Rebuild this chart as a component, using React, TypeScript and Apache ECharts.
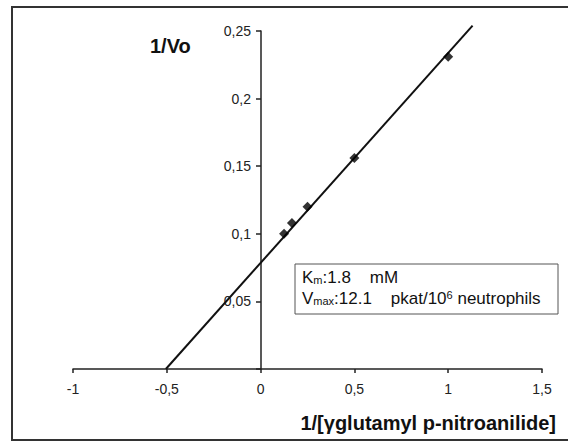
import React, { useEffect, useRef } from "react";
import * as echarts from "echarts";

const xData = [0.125, 0.167, 0.25, 0.5, 1.0];
const yData = [0.1, 0.108, 0.12, 0.156, 0.231];
const fitLine = [
  [-0.505, 0],
  [1.13, 0.254],
];
const xTicks = { min: -1, max: 1.5, interval: 0.5 };
const yTicks = { min: 0, max: 0.25, interval: 0.05 };

const FONT = "'Liberation Sans', Arial, sans-serif";
const fmt = (v: number) => String(Math.round(v * 1000) / 1000).replace(".", ",");

export default function App() {
  const ref = useRef<HTMLDivElement>(null);
  useEffect(() => {
    if (!ref.current) return;
    const chart = echarts.init(ref.current, undefined, { renderer: "svg" });
    chart.setOption({
      animation: false,
      backgroundColor: "#fff",
      grid: { left: 73, right: 26, top: 31, bottom: 77, containLabel: false },
      xAxis: {
        type: "value",
        min: xTicks.min,
        max: xTicks.max,
        interval: xTicks.interval,
        splitLine: { show: false },
        axisLine: { lineStyle: { color: "#222", width: 1.5 } },
        axisTick: { show: true, length: 4, lineStyle: { color: "#222", width: 1.5 } },
        axisLabel: {
          formatter: (v: number) => fmt(v),
          color: "#222",
          fontFamily: FONT,
          fontSize: 14,
          margin: 13,
        },
      },
      yAxis: {
        type: "value",
        min: yTicks.min,
        max: yTicks.max,
        interval: yTicks.interval,
        offset: -188,
        splitLine: { show: false },
        axisLine: { show: true, onZero: false, lineStyle: { color: "#222", width: 1.5 } },
        axisTick: { show: true, length: 5, lineStyle: { color: "#222", width: 1.5 } },
        axisLabel: {
          formatter: (v: number) => (v === 0 ? "" : fmt(v)),
          color: "#222",
          fontFamily: FONT,
          fontSize: 14,
          margin: 10,
        },
      },
      series: [
        {
          type: "line",
          data: fitLine,
          symbol: "none",
          clip: false,
          lineStyle: { color: "#111", width: 2 },
          z: 2,
        },
        {
          type: "scatter",
          data: xData.map((x, i) => [x, yData[i]]),
          symbol: "diamond",
          symbolSize: 10,
          itemStyle: { color: "#000" },
          z: 3,
        },
      ],
      graphic: [
        {
          type: "rect",
          shape: { x: 12, y: 7, width: 570, height: 433 },
          style: { fill: "none", stroke: "#333", lineWidth: 2 },
          silent: true,
        },
        {
          type: "text",
          x: 150,
          y: 46,
          style: {
            text: "1/Vo",
            fontFamily: FONT,
            fontSize: 20,
            fontWeight: "bold",
            fill: "#111",
            verticalAlign: "middle",
          },
        },
        {
          type: "text",
          x: 556,
          y: 423,
          style: {
            text: "1/[γglutamyl p-nitroanilide]",
            fontFamily: FONT,
            fontSize: 20,
            fontWeight: "bold",
            fill: "#111",
            align: "right",
            verticalAlign: "middle",
          },
        },
        {
          type: "rect",
          shape: { x: 295, y: 264, width: 263, height: 50 },
          style: { fill: "#fff", stroke: "#555", lineWidth: 1 },
          z: 10,
        },
        {
          type: "text",
          x: 302,
          y: 277,
          z: 11,
          style: {
            text: "{n|K}{s|m}{n|:1.8    mM}",
            verticalAlign: "middle",
            rich: {
              n: { fontFamily: FONT, fontSize: 17, fill: "#111" },
              s: { fontFamily: FONT, fontSize: 11, fill: "#111", verticalAlign: "bottom", padding: [6, 0, 0, 0] },
            },
          },
        },
        {
          type: "text",
          x: 302,
          y: 298,
          z: 11,
          style: {
            text: "{n|V}{s|max}{n|:12.1    pkat/10}{p|6}{n| neutrophils}",
            verticalAlign: "middle",
            rich: {
              n: { fontFamily: FONT, fontSize: 17, fill: "#111" },
              s: { fontFamily: FONT, fontSize: 11, fill: "#111", verticalAlign: "bottom", padding: [6, 0, 0, 0] },
              p: { fontFamily: FONT, fontSize: 11, fill: "#111", verticalAlign: "top", padding: [0, 0, 6, 0] },
            },
          },
        },
      ],
    });
    return () => chart.dispose();
  }, []);
  return <div ref={ref} style={{ width: 568, height: 446, position: "absolute", left: 0, top: 0 }} />;
}
